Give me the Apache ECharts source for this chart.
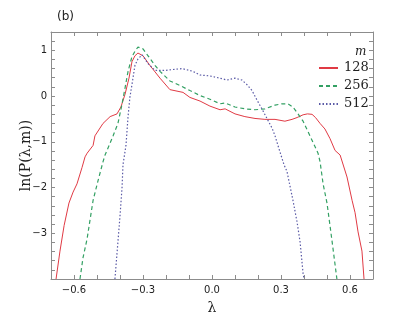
<!DOCTYPE html>
<html>
<head>
<meta charset="utf-8">
<script src="https://cdn.jsdelivr.net/npm/echarts@6/dist/echarts.min.js"></script>
<style>
html,body{margin:0;padding:0;background:#fff;}
#main{width:415px;height:320px;}
</style>
</head>
<body>
<div id="main"></div>
<script>
// values
var seriesNames = ['128', '256', '512'];

var lam128 = [-0.678,-0.661,-0.643,-0.622,-0.604,-0.587,-0.565,-0.552,-0.543,-0.517,-0.509,-0.474,-0.443,-0.413,-0.396,-0.378,-0.361,-0.348,-0.335,-0.322,-0.300,-0.270,-0.226,-0.183,-0.126,-0.096,-0.052,-0.009,0.035,0.057,0.100,0.143,0.187,0.230,0.274,0.317,0.348,0.370,0.396,0.415,0.435,0.450,0.470,0.491,0.513,0.535,0.557,0.587,0.609,0.622,0.635,0.652,0.661];
var lnP128 = [-4.0,-3.39,-2.83,-2.34,-2.10,-1.92,-1.56,-1.33,-1.25,-1.08,-0.87,-0.60,-0.45,-0.39,-0.24,0.04,0.39,0.75,0.88,0.94,0.88,0.67,0.39,0.14,0.08,-0.03,-0.11,-0.22,-0.30,-0.28,-0.39,-0.45,-0.49,-0.51,-0.51,-0.55,-0.51,-0.47,-0.41,-0.39,-0.40,-0.47,-0.60,-0.72,-0.93,-1.19,-1.29,-1.77,-2.28,-2.55,-2.97,-3.39,-4.0];

var lam256 = [-0.574,-0.561,-0.543,-0.530,-0.517,-0.496,-0.474,-0.465,-0.430,-0.409,-0.391,-0.378,-0.365,-0.348,-0.335,-0.322,-0.300,-0.278,-0.248,-0.226,-0.183,-0.139,-0.096,-0.052,-0.009,0.035,0.057,0.100,0.143,0.187,0.230,0.274,0.304,0.330,0.352,0.374,0.396,0.426,0.461,0.470,0.483,0.500,0.513,0.526,0.543];
var lnP256 = [-4.0,-3.54,-3.12,-2.70,-2.28,-1.86,-1.44,-1.29,-0.87,-0.60,-0.17,0.18,0.54,0.86,0.98,1.07,1.03,0.88,0.67,0.54,0.33,0.23,0.12,0.01,-0.07,-0.17,-0.15,-0.24,-0.28,-0.30,-0.28,-0.20,-0.17,-0.17,-0.24,-0.39,-0.55,-0.87,-1.25,-1.44,-1.92,-2.34,-2.83,-3.33,-4.0];

var lam512 = [-0.422,-0.409,-0.400,-0.391,-0.387,-0.374,-0.365,-0.357,-0.348,-0.335,-0.322,-0.304,-0.278,-0.248,-0.204,-0.170,-0.130,-0.083,-0.052,-0.009,0.035,0.065,0.100,0.130,0.152,0.174,0.196,0.217,0.239,0.261,0.274,0.296,0.313,0.326,0.352,0.370,0.383,0.396,0.400];
var lnP512 = [-4.0,-3.19,-2.62,-1.99,-1.50,-1.08,-0.45,-0.03,0.25,0.67,0.81,0.90,0.71,0.56,0.56,0.58,0.60,0.54,0.46,0.44,0.39,0.35,0.39,0.35,0.25,0.12,-0.09,-0.28,-0.49,-0.70,-0.87,-1.23,-1.50,-1.65,-2.28,-2.76,-3.19,-3.88,-4.0];

var lineColors = ['#e03a44', '#33a063', '#5a5aa6'];
var lineTypes = ['solid', [4, 3], [1.5, 2]];

function pairs(xs, ys){
	var out = [];
	for (var i = 0; i < xs.length; i++) out.push([xs[i], ys[i]]);
	return out;
}
function minus(s){ return String(s).replace('-', '\u2212'); }

var sans = 'DejaVu Sans', serif = 'DejaVu Serif';
var frameColor = '#8c8c8c';

var xBase = {
	type: 'value', min: -0.7, max: 0.7, interval: 0.1,
	axisLine: {onZero: false, lineStyle: {color: frameColor, width: 1}},
	axisTick: {inside: true, length: 4, lineStyle: {color: frameColor}},
	splitLine: {show: false}
};
var yBase = {
	type: 'value', min: -4, max: 1.4, interval: 0.2,
	axisLine: {onZero: false, lineStyle: {color: frameColor, width: 1}},
	axisTick: {inside: true, length: 4, lineStyle: {color: frameColor}},
	splitLine: {show: false}
};

var chart = echarts.init(document.getElementById('main'));
var option = {
	animation: false,
	backgroundColor: '#fff',
	title: [
		{text: '(b)', left: 52, top: 6, textStyle: {fontFamily: sans, fontSize: 12, fontWeight: 'normal', color: '#222'}},
		{text: 'm', left: 350, top: 41, textStyle: {fontFamily: serif, fontStyle: 'italic', fontSize: 12, fontWeight: 'normal', color: '#222'}}
	],
	grid: {left: 51, right: 42, top: 32, bottom: 32},
	legend: {
		data: seriesNames,
		orient: 'vertical',
		left: 313, top: 56,
		itemWidth: 19, itemHeight: 10, itemGap: 4,
		itemStyle: {opacity: 0, borderWidth: 0},
		textStyle: {fontFamily: serif, fontSize: 13, color: '#222', lineHeight: 14, padding: [0, 0, 0, 1]}
	},
	xAxis: [
		Object.assign({}, xBase, {
			position: 'bottom',
			name: 'λ', nameLocation: 'middle', nameGap: 22,
			nameTextStyle: {fontFamily: serif, fontSize: 14, color: '#222'},
			axisLabel: {
				fontFamily: sans, fontSize: 10, color: '#222', margin: 6,
				formatter: function (v) {
					var k = Math.round(v * 10);
					if (k % 3 !== 0) return '';
					return minus((k / 10).toFixed(1));
				}
			}
		}),
		Object.assign({}, xBase, {position: 'top', axisLabel: {show: false}})
	],
	yAxis: [
		Object.assign({}, yBase, {
			position: 'left',
			name: 'ln(P(λ,m))', nameLocation: 'middle', nameGap: 18, nameMoveOverlap: false,
			nameTextStyle: {fontFamily: serif, fontSize: 14, color: '#222'},
			axisLabel: {
				fontFamily: sans, fontSize: 10, color: '#222', margin: 4,
				formatter: function (v) {
					var r = Math.round(v * 10);
					if (r % 10 !== 0 || r <= -40) return '';
					return minus(r / 10);
				}
			}
		}),
		Object.assign({}, yBase, {position: 'right', axisLabel: {show: false}})
	],
	series: [
		{name: seriesNames[0], type: 'line', symbol: 'none', data: pairs(lam128, lnP128),
			lineStyle: {color: lineColors[0], width: 1, type: lineTypes[0]}, itemStyle: {color: lineColors[0]}},
		{name: seriesNames[1], type: 'line', symbol: 'none', data: pairs(lam256, lnP256),
			lineStyle: {color: lineColors[1], width: 1.2, type: lineTypes[1]}, itemStyle: {color: lineColors[1]}},
		{name: seriesNames[2], type: 'line', symbol: 'none', data: pairs(lam512, lnP512),
			lineStyle: {color: lineColors[2], width: 1.2, type: lineTypes[2]}, itemStyle: {color: lineColors[2]}}
	]
};
chart.setOption(option);
</script>
</body>
</html>
